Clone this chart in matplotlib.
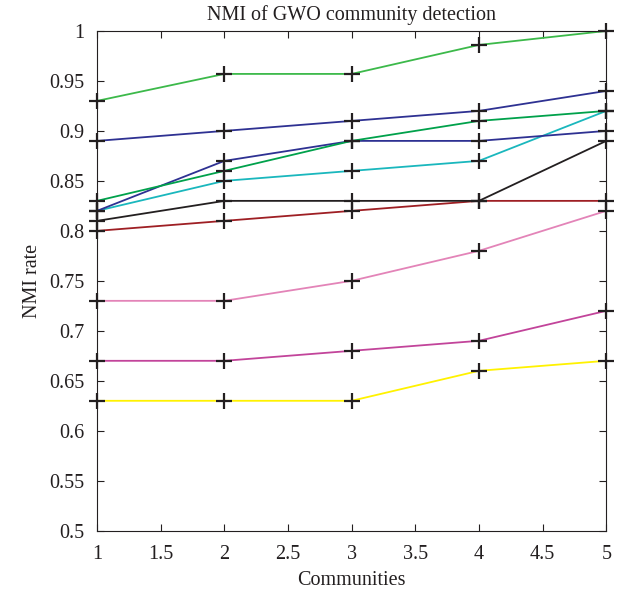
import matplotlib
matplotlib.use("Agg")
import matplotlib.pyplot as plt

communities = [1, 2, 3, 4, 5]
s_lightgreen = [0.93, 0.957, 0.957, 0.986, 1.0]
s_blue_upper = [0.89, 0.90, 0.91, 0.92, 0.94]
s_green = [0.83, 0.86, 0.89, 0.91, 0.92]
s_blue_lower = [0.82, 0.87, 0.89, 0.89, 0.90]
s_cyan = [0.82, 0.85, 0.86, 0.87, 0.92]
s_black = [0.81, 0.83, 0.83, 0.83, 0.89]
s_red = [0.80, 0.81, 0.82, 0.83, 0.83]
s_pink = [0.73, 0.73, 0.75, 0.78, 0.82]
s_magenta = [0.67, 0.67, 0.68, 0.69, 0.72]
s_yellow = [0.63, 0.63, 0.63, 0.66, 0.67]

series = [
    (s_yellow, "#fff200"),
    (s_magenta, "#c2449a"),
    (s_pink, "#e384b8"),
    (s_red, "#9e1f24"),
    (s_black, "#231f20"),
    (s_cyan, "#1ab7bd"),
    (s_blue_lower, "#2e3192"),
    (s_green, "#00a14b"),
    (s_blue_upper, "#2e3192"),
    (s_lightgreen, "#3cb94a"),
]

plt.rcParams['font.family'] = ['Liberation Serif', 'DejaVu Serif']
fig = plt.figure(figsize=(6.18, 5.95), dpi=100)
ax = fig.add_axes([0.157, 0.108, 0.824, 0.840])

for vals, col in series:
    ax.plot(communities, vals, color=col, lw=1.3, marker='+', markersize=12,
            markeredgecolor='#231f20', markeredgewidth=1.6, clip_on=False)

ax.set_xlim(1, 5)
ax.set_ylim(0.5, 1.0)
ax.set_xticks([1, 1.5, 2, 2.5, 3, 3.5, 4, 4.5, 5])
ax.set_xticklabels(['1', '1.5', '2', '2.5', '3', '3.5', '4', '4.5', '5'])
yt = [0.5, 0.55, 0.6, 0.65, 0.7, 0.75, 0.8, 0.85, 0.9, 0.95, 1.0]
ax.set_yticks(yt)
ax.set_yticklabels(['0.5', '0.55', '0.6', '0.65', '0.7', '0.75', '0.8', '0.85', '0.9', '0.95', '1'])
ax.tick_params(direction='in', top=True, right=True, length=5, width=0.8,
               labelsize=14.5, colors='#231f20')
ax.tick_params(axis='y', pad=9)
ax.tick_params(axis='x', pad=10)
for sp in ax.spines.values():
    sp.set_linewidth(0.8)
    sp.set_color('#231f20')
ax.set_title('NMI of GWO community detection', fontsize=14.5, pad=8, color='#231f20')
ax.set_xlabel('Communities', fontsize=14.5, color='#231f20', labelpad=5)
ax.set_ylabel('NMI rate', fontsize=14.5, color='#231f20', labelpad=5)

fig.savefig('out.png', dpi=100)
